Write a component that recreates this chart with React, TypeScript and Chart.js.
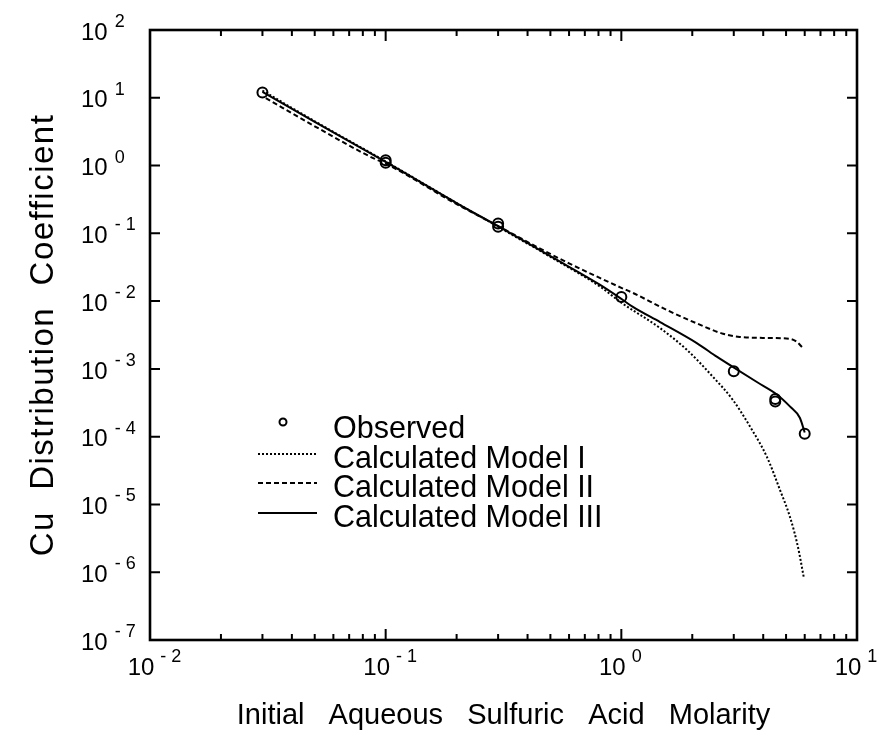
import React, { useEffect, useRef } from 'react';
import { Chart, registerables } from 'chart.js';

Chart.register(...registerables);

// ---- data ----
const observedX = [0.03, 0.1, 0.1, 0.3, 0.3, 1.0, 3.0, 4.5, 4.5, 6.0];
const observedY = [12, 1.2, 1.1, 0.14, 0.125, 0.0115, 0.00092, 0.00036, 0.00033, 0.00011];

const model1X = [0.03, 0.05, 0.1, 0.2, 0.3, 0.5, 0.81, 1.0, 1.46, 1.9, 2.45, 2.97, 3.52, 4.15, 4.71, 5.19, 5.61, 5.95];
const model1Y = [12.8, 4.5, 1.15, 0.28, 0.125, 0.045, 0.0165, 0.0095, 0.004, 0.0019, 0.00076, 0.00035, 0.00014, 0.00005, 0.0000164, 0.0000066, 0.0000024, 0.00000083];

const model2X = [0.031, 0.05, 0.088, 0.1, 0.2, 0.3, 0.45, 0.6, 0.81, 1.0, 1.12, 1.56, 2.15, 2.7, 3.18, 4.15, 5.19, 5.56, 5.84];
const model2Y = [9.9, 3.8, 1.3, 1.07, 0.27, 0.128, 0.06, 0.036, 0.022, 0.0157, 0.0132, 0.0074, 0.0045, 0.0033, 0.00296, 0.00286, 0.00277, 0.0025, 0.0021];

const model3X = [0.03, 0.05, 0.1, 0.2, 0.3, 0.5, 0.81, 1.0, 1.12, 1.46, 2.09, 2.55, 2.97, 3.76, 4.57, 5.19, 5.72, 6.0];
const model3Y = [12.2, 4.4, 1.13, 0.28, 0.128, 0.046, 0.0175, 0.0108, 0.0082, 0.0049, 0.0024, 0.0015, 0.00107, 0.00064, 0.00042, 0.00028, 0.00019, 0.000115];

const xExponents = [-2, -1, 0, 1];
const yExponents = [-7, -6, -5, -4, -3, -2, -1, 0, 1, 2];

const legendLabels = ['Observed', 'Calculated Model I', 'Calculated Model II', 'Calculated Model III'];
const xTitle = 'Initial   Aqueous   Sulfuric   Acid   Molarity';
const yTitle = 'Cu  Distribution  Coefficient';

const FONT = '"Liberation Sans", Arial, Helvetica, sans-serif';

const pts = (xs: number[], ys: number[]) => xs.map((x, i) => ({ x, y: ys[i] }));

const expText = (e: number) => (e < 0 ? '- ' + Math.abs(e) : String(e));

export default function App() {
  const ref = useRef<HTMLCanvasElement>(null);

  useEffect(() => {
    const canvas = ref.current!;
    const decor = {
      id: 'decor',
      afterDraw(chart: any) {
        const { ctx, chartArea: a, scales } = chart;
        const sx = scales.x;
        const sy = scales.y;
        ctx.save();
        ctx.strokeStyle = '#000';
        ctx.fillStyle = '#000';
        ctx.lineWidth = 2.6;
        ctx.strokeRect(a.left, a.top, a.right - a.left, a.bottom - a.top);
        ctx.lineWidth = 2;
        ctx.beginPath();
        for (const e of yExponents) {
          const y = sy.getPixelForValue(Math.pow(10, e));
          ctx.moveTo(a.left, y);
          ctx.lineTo(a.left + 10, y);
          ctx.moveTo(a.right, y);
          ctx.lineTo(a.right - 10, y);
        }
        for (let d = -2; d < 1; d++) {
          for (let m = 1; m <= 10; m++) {
            const x = sx.getPixelForValue(m * Math.pow(10, d));
            const len = m === 1 || m === 10 ? 11 : 6;
            ctx.moveTo(x, a.bottom);
            ctx.lineTo(x, a.bottom - len);
            ctx.moveTo(x, a.top);
            ctx.lineTo(x, a.top + len);
          }
        }
        ctx.stroke();

        // tick labels: "10" with a raised exponent
        ctx.textBaseline = 'middle';
        ctx.textAlign = 'left';
        for (const e of yExponents) {
          const y = sy.getPixelForValue(Math.pow(10, e));
          ctx.font = `24px ${FONT}`;
          ctx.fillText('10', 81, y + 3);
          const w = ctx.measureText('10').width;
          ctx.font = `18px ${FONT}`;
          ctx.fillText(expText(e), 81 + w + 7, y - 8);
        }
        for (const e of xExponents) {
          const x = sx.getPixelForValue(Math.pow(10, e));
          ctx.font = `24px ${FONT}`;
          const w = ctx.measureText('10').width;
          ctx.fillText('10', x - 9 - w / 2, a.bottom + 28);
          ctx.font = `18px ${FONT}`;
          ctx.fillText(expText(e), x - 9 + w / 2 + 6, a.bottom + 17);
        }

        // y-axis title (rotated)
        ctx.save();
        ctx.translate(44, (a.top + a.bottom) / 2);
        ctx.rotate(-Math.PI / 2);
        ctx.font = `33px ${FONT}`;
        (ctx as any).letterSpacing = '1.5px';
        ctx.textAlign = 'center';
        ctx.textBaseline = 'middle';
        ctx.fillText(yTitle, 0, 0);
        ctx.restore();

        // legend
        const lx0 = 258, lx1 = 317, tx = 333;
        const rows = [428, 458, 487, 517];
        ctx.font = `30.5px ${FONT}`;
        ctx.textBaseline = 'alphabetic';
        ctx.lineWidth = 2;
        ctx.beginPath();
        ctx.arc(283, rows[0] - 6, 3.5, 0, Math.PI * 2);
        ctx.stroke();
        const dashes = [[2, 2], [5, 3], []];
        for (let i = 1; i < 4; i++) {
          ctx.setLineDash(dashes[i - 1]);
          ctx.beginPath();
          ctx.moveTo(lx0, rows[i] - 4);
          ctx.lineTo(lx1, rows[i] - 4);
          ctx.stroke();
        }
        ctx.setLineDash([]);
        legendLabels.forEach((t, i) => ctx.fillText(t, tx, rows[i] + 10));
        ctx.restore();
      },
    };

    const chart = new Chart(canvas, {
      type: 'line',
      data: {
        datasets: [
          {
            label: legendLabels[0],
            data: pts(observedX, observedY),
            showLine: false,
            pointStyle: 'circle',
            pointRadius: 5,
            pointBorderWidth: 2,
            borderColor: '#000',
            pointBackgroundColor: 'rgba(0,0,0,0)',
            pointBorderColor: '#000',
          },
          {
            label: legendLabels[1],
            data: pts(model1X, model1Y),
            borderColor: '#000',
            borderWidth: 2,
            borderDash: [2, 2],
            pointRadius: 0,
            cubicInterpolationMode: 'monotone',
          },
          {
            label: legendLabels[2],
            data: pts(model2X, model2Y),
            borderColor: '#000',
            borderWidth: 2,
            borderDash: [5, 3],
            pointRadius: 0,
            cubicInterpolationMode: 'monotone',
          },
          {
            label: legendLabels[3],
            data: pts(model3X, model3Y),
            borderColor: '#000',
            borderWidth: 2,
            pointRadius: 0,
            cubicInterpolationMode: 'monotone',
          },
        ],
      },
      options: {
        responsive: false,
        animation: false,
        layout: { padding: { left: 0, top: 30, right: 26, bottom: 0 } },
        plugins: { legend: { display: false }, tooltip: { enabled: false } },
        scales: {
          x: {
            type: 'logarithmic',
            min: 0.01,
            max: 10,
            grid: { display: false },
            border: { display: false },
            ticks: { display: false },
            title: {
              display: true,
              text: xTitle,
              color: '#000',
              font: { family: FONT, size: 29 },
              padding: { top: 0, bottom: 11 },
            },
            afterFit: (s: any) => {
              s.height = 104;
            },
          },
          y: {
            type: 'logarithmic',
            min: 1e-7,
            max: 100,
            grid: { display: false },
            border: { display: false },
            ticks: { display: false },
            title: { display: false, text: yTitle },
            afterFit: (s: any) => {
              s.width = 150;
            },
          },
        },
      },
      plugins: [decor],
    } as any);
    return () => chart.destroy();
  }, []);

  return (
    <div style={{ position: 'fixed', left: 0, top: 0, width: 883, height: 744, background: '#fff' }}>
      <canvas ref={ref} width={883} height={744} style={{ display: 'block', width: 883, height: 744 }} />
    </div>
  );
}
